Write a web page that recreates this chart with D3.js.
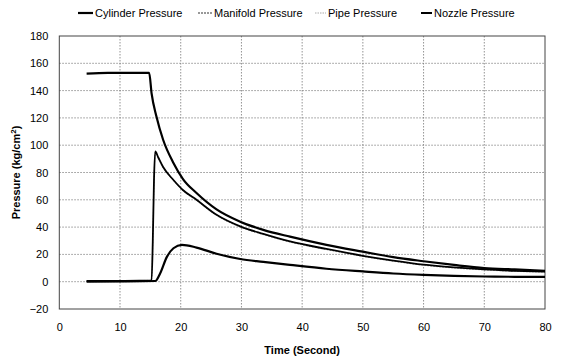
<!DOCTYPE html>
<html><head><meta charset="utf-8">
<script src="https://cdn.jsdelivr.net/npm/d3@7"></script>
<style>
html,body{margin:0;padding:0;background:#fff;}
svg{display:block;font-family:"Liberation Sans",Arial,sans-serif;}
</style></head>
<body><svg id="c" width="561" height="359"></svg>
<script>
const seriesNames = ["Cylinder Pressure","Manifold Pressure","Pipe Pressure","Nozzle Pressure"];
const xTicks = [0,10,20,30,40,50,60,70,80];
const yTicks = [-20,0,20,40,60,80,100,120,140,160,180];

const cylinderT = [4.5, 8, 14.8, 15.2, 16, 17.1, 18.8, 20.4, 22.6, 25.9, 29.8, 33.6, 38, 44, 50, 55, 60, 65, 70, 75, 80];
const cylinderV = [152.5, 153, 153, 138, 121, 104, 87, 75, 65, 53, 44, 38, 33, 27, 22, 18, 15, 12.3, 10, 9, 8];

const manifoldT = [4.5, 15.2, 15.4, 15.6, 15.8, 16.3, 17.1, 18.8, 20.4, 22.6, 25.9, 29.8, 33.6, 38, 44, 50, 55, 60, 65, 70, 75, 80];
const manifoldV = [0.5, 1, 30, 75, 95.5, 91, 84, 74.5, 67, 60, 49, 40.5, 35, 29.5, 24, 19, 15.5, 12.5, 10.5, 9, 8, 7.3];

const pipeT = [4.5, 15.2, 15.4, 15.6, 15.8, 16.3, 17.1, 18.8, 20.4, 22.6, 25.9, 29.8, 33.6, 38, 44, 50, 55, 60, 65, 70, 75, 80];
const pipeV = [0.5, 1, 29, 74, 95, 90.5, 83.5, 74, 66.5, 59.5, 48.5, 40, 34.5, 29, 23.5, 18.5, 15, 12, 10, 8.6, 7.6, 7];

const nozzleT = [4.5, 15.8, 16.6, 17.7, 18.8, 20.2, 22.6, 25.9, 29.8, 33.6, 38, 44, 50, 55, 60, 65, 70, 75, 80];
const nozzleV = [0, 0.5, 6, 18, 24.5, 27, 25, 20.5, 16.6, 14.5, 12.3, 9.5, 7.5, 6, 5, 4.3, 3.8, 3.6, 3.5];

const svg = d3.select("#c");
const L = 59.3, R = 545, T = 36, B = 309;
const x = d3.scaleLinear().domain([0,80]).range([L,R]);
const y = d3.scaleLinear().domain([-20,180]).range([B,T]);

// grid
const g = svg.append("g");
g.selectAll(".gx").data(xTicks.slice(1,-1)).enter().append("line")
  .attr("x1",d=>x(d)).attr("x2",d=>x(d)).attr("y1",T).attr("y2",B)
  .attr("stroke","#777").attr("stroke-width",0.8).attr("stroke-dasharray","1.5,1.5");
g.selectAll(".gy").data(yTicks.slice(1,-1)).enter().append("line")
  .attr("y1",d=>y(d)).attr("y2",d=>y(d)).attr("x1",L).attr("x2",R)
  .attr("stroke","#777").attr("stroke-width",0.8).attr("stroke-dasharray","1.5,1.5");
g.append("rect").attr("x",L).attr("y",T).attr("width",R-L).attr("height",B-T)
  .attr("fill","none").attr("stroke","#444").attr("stroke-width",1);

// axes
const xa = svg.append("g").attr("transform",`translate(0,${B})`)
  .call(d3.axisBottom(x).tickValues(xTicks).tickSize(0).tickPadding(14));
xa.select(".domain").remove();
xa.selectAll("text").attr("font-size","11px").attr("font-family","Liberation Sans, Arial, sans-serif").attr("fill","#000");
const ya = svg.append("g").attr("transform",`translate(${L},0)`)
  .call(d3.axisLeft(y).tickValues(yTicks).tickSize(0).tickPadding(11));
ya.select(".domain").remove();
ya.selectAll("text").attr("font-size","11px").attr("font-family","Liberation Sans, Arial, sans-serif").attr("fill","#000");

// titles
svg.append("text").attr("x",(L+R)/2).attr("y",354).attr("text-anchor","middle")
  .attr("font-size","11px").attr("font-weight","bold").text("Time (Second)");
const yt = svg.append("text").attr("transform",`translate(20,${(T+B)/2}) rotate(-90)`)
  .attr("text-anchor","middle").attr("font-size","11px").attr("font-weight","bold");
yt.append("tspan").text("Pressure (kg/cm");
yt.append("tspan").attr("dy",-4).attr("font-size","8px").text("2");
yt.append("tspan").attr("dy",4).text(")");

// lines (pipe drawn first so manifold sits on top)
const line = d3.line().x(d=>x(d[0])).y(d=>y(d[1])).curve(d3.curveMonotoneX);
const zip = (a,b)=>a.map((t,i)=>[t,b[i]]);
const styles = [
  {data: zip(pipeT,pipeV), color:"#999", w:1, dash:"1.5,1.5"},
  {data: zip(cylinderT,cylinderV), color:"#000", w:2.2, dash:null},
  {data: zip(manifoldT,manifoldV), color:"#000", w:1.8, dash:null},
  {data: zip(nozzleT,nozzleV), color:"#000", w:2.2, dash:null}
];
styles.forEach(s=>{
  svg.append("path").attr("d",line(s.data)).attr("fill","none")
    .attr("stroke",s.color).attr("stroke-width",s.w)
    .attr("stroke-dasharray",s.dash).attr("stroke-linejoin","round");
});

// legend
const legX = [[78,95],[198,214],[315,328],[421,434]];
const legStyle = [
  {color:"#000", w:2.2, dash:null},
  {color:"#333", w:1.2, dash:"2,1"},
  {color:"#aaa", w:1, dash:"1.5,1"},
  {color:"#000", w:2, dash:null}
];
seriesNames.forEach((n,i)=>{
  svg.append("line").attr("x1",legX[i][0]).attr("x2",legX[i][1]-2).attr("y1",13).attr("y2",13)
    .attr("stroke",legStyle[i].color).attr("stroke-width",legStyle[i].w).attr("stroke-dasharray",legStyle[i].dash);
  svg.append("text").attr("x",legX[i][1]).attr("y",17).attr("font-size","11px").text(n);
});
</script></body></html>
